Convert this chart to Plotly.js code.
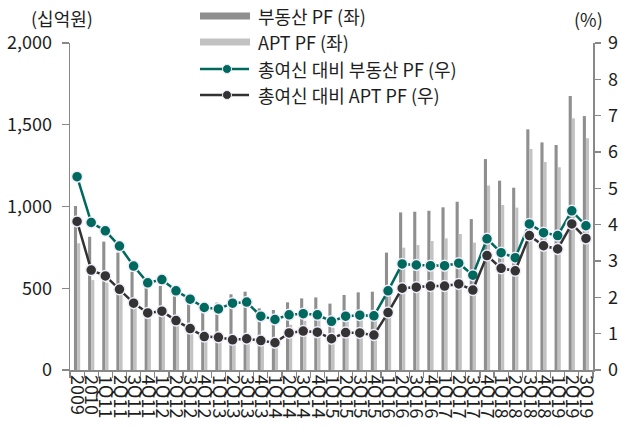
<!DOCTYPE html>
<html>
<head>
<meta charset="utf-8">
<script src="https://cdn.plot.ly/plotly-3.0.1.min.js"></script>
<style>html,body{margin:0;padding:0;background:#fff;}#chart{width:621px;height:430px;}</style>
</head>
<body>
<div id="chart"></div>
<script>
const categories = ["2009","2010",
  "1Q11","2Q11","3Q11","4Q11",
  "1Q12","2Q12","3Q12","4Q12",
  "1Q13","2Q13","3Q13","4Q13",
  "1Q14","2Q14","3Q14","4Q14",
  "1Q15","2Q15","3Q15","4Q15",
  "1Q16","2Q16","3Q16","4Q16",
  "1Q17","2Q17","3Q17","4Q17",
  "1Q18","2Q18","3Q18","4Q18",
  "1Q19","2Q19","3Q19"];
const pfTotal = [1003, 815, 785, 718, 601, 540, 514, 479, 404, 371, 412, 463, 479, 377, 367, 414, 438, 444, 406, 459, 475, 479, 718, 964, 968, 974, 995, 1029, 923, 1290, 1158, 1115, 1472, 1392, 1376, 1676, 1553];
const pfApt = [775, 550, 534, 467, 387, 353, 334, 299, 236, 198, 221, 209, 220, 205, 198, 277, 301, 303, 258, 317, 318, 309, 520, 748, 764, 789, 805, 832, 779, 1129, 1009, 993, 1352, 1272, 1240, 1539, 1417];
const ratioTotal = [5.32, 4.06, 3.83, 3.41, 2.86, 2.40, 2.49, 2.18, 1.95, 1.72, 1.68, 1.84, 1.87, 1.48, 1.39, 1.52, 1.55, 1.52, 1.34, 1.48, 1.51, 1.49, 2.18, 2.92, 2.89, 2.87, 2.87, 2.94, 2.61, 3.61, 3.23, 3.09, 4.02, 3.78, 3.70, 4.38, 3.97];
const ratioApt = [4.09, 2.75, 2.59, 2.22, 1.84, 1.57, 1.62, 1.36, 1.14, 0.92, 0.90, 0.83, 0.86, 0.81, 0.75, 1.02, 1.07, 1.04, 0.86, 1.03, 1.02, 0.96, 1.58, 2.25, 2.28, 2.31, 2.31, 2.37, 2.20, 3.15, 2.80, 2.73, 3.70, 3.42, 3.33, 4.02, 3.62];
const legendLabels = ["부동산 PF (좌)", "APT PF (좌)", "총여신 대비 부동산 PF (우)", "총여신 대비 APT PF (우)"];
const leftTicks = [0, 500, 1000, 1500, 2000];
const rightTicks = [0, 1, 2, 3, 4, 5, 6, 7, 8, 9];

const C_DARKBAR = "#8f8f8f", C_LIGHTBAR = "#c2c2c2", C_TEAL = "#00695e", C_DARK = "#333333", C_MK = "#f2ecfb";
const FONT = "Noto Sans CJK KR, Noto Sans, sans-serif";
const FS = 18;
const TXT = "#1e1e1e";

const traces = [
  {type:"bar", x:categories, y:pfTotal, name:legendLabels[0], marker:{color:C_DARKBAR}, yaxis:"y"},
  {type:"bar", x:categories, y:pfApt, name:legendLabels[1], marker:{color:C_LIGHTBAR}, yaxis:"y"},
  {type:"scatter", mode:"lines+markers", x:categories, y:ratioTotal, name:legendLabels[2], yaxis:"y2",
   line:{color:C_TEAL, width:2.5}, marker:{color:C_TEAL, size:11, line:{color:C_MK, width:1.5}}},
  {type:"scatter", mode:"lines+markers", x:categories, y:ratioApt, name:legendLabels[3], yaxis:"y2",
   line:{color:C_DARK, width:2.5}, marker:{color:C_DARK, size:11, line:{color:C_MK, width:1.5}}}
];

// plot area in pixels: x 70..593, y 43..370
const L=70, R=593, T=43, B=370;
const px = x => (x-L)/(R-L);
const py = y => (B-y)/(B-T);

const rows = [16, 42, 69, 95];
const shapes = [
  {type:"rect", xref:"paper", yref:"paper", x0:px(200), x1:px(250), y0:py(rows[0]+3.5), y1:py(rows[0]-3.5), fillcolor:C_DARKBAR, line:{width:0}},
  {type:"rect", xref:"paper", yref:"paper", x0:px(200), x1:px(250), y0:py(rows[1]+3.5), y1:py(rows[1]-3.5), fillcolor:C_LIGHTBAR, line:{width:0}},
  {type:"line", xref:"paper", yref:"paper", x0:px(200), x1:px(249), y0:py(rows[2]), y1:py(rows[2]), line:{color:C_TEAL, width:2.5}},
  {type:"circle", xref:"paper", yref:"paper", x0:px(222.5), x1:px(231.5), y0:py(rows[2]+4.5), y1:py(rows[2]-4.5), fillcolor:C_TEAL, line:{color:C_MK, width:1}},
  {type:"line", xref:"paper", yref:"paper", x0:px(200), x1:px(249), y0:py(rows[3]), y1:py(rows[3]), line:{color:C_DARK, width:2.5}},
  {type:"circle", xref:"paper", yref:"paper", x0:px(222.5), x1:px(231.5), y0:py(rows[3]+4.5), y1:py(rows[3]-4.5), fillcolor:C_DARK, line:{color:C_MK, width:1}}
];
const annotations = legendLabels.map((t,i)=>({
  text:t, xref:"paper", yref:"paper", x:px(256), y:py(rows[i]), xanchor:"left", yanchor:"middle",
  showarrow:false, font:{family:FONT, size:FS, color:TXT}
}));
annotations.push({text:"(십억원)", xref:"paper", yref:"paper", x:px(62), y:py(18), xanchor:"center", yanchor:"middle", showarrow:false, font:{family:FONT, size:FS, color:TXT}});
annotations.push({text:"(%)", xref:"paper", yref:"paper", x:px(588), y:py(19), xanchor:"center", yanchor:"middle", showarrow:false, font:{family:FONT, size:FS, color:TXT}});

const axisCommon = {showline:true, linecolor:"#888", linewidth:1.5, showgrid:false, zeroline:false,
  ticks:"outside", tickcolor:"#888", tickwidth:1.2, tickfont:{family:FONT, size:FS, color:TXT}, automargin:false};

const layout = {
  width:621, height:430,
  margin:{l:L, r:621-R, t:T, b:430-B, autoexpand:false},
  paper_bgcolor:"#fff", plot_bgcolor:"#fff",
  font:{family:FONT, size:FS, color:TXT},
  showlegend:false,
  barmode:"group", bargap:0.56, bargroupgap:0,
  xaxis:Object.assign({}, axisCommon, {type:"category", range:[-0.5, categories.length-0.5], tickangle:90,
    tickmode:"array", tickvals:categories, ticktext:categories, tickson:"boundaries", ticklen:6, ticklabelstandoff:0}),
  yaxis:Object.assign({}, axisCommon, {range:[0,2000], tickmode:"array", tickvals:leftTicks, tickformat:",", ticklen:7, ticklabelstandoff:6}),
  yaxis2:Object.assign({}, axisCommon, {range:[0,9], tickmode:"array", tickvals:rightTicks, overlaying:"y", side:"right", ticklen:6, ticklabelstandoff:4}),
  shapes:shapes, annotations:annotations
};
Plotly.newPlot("chart", traces, layout, {displayModeBar:false, staticPlot:true});
</script>
</body>
</html>
